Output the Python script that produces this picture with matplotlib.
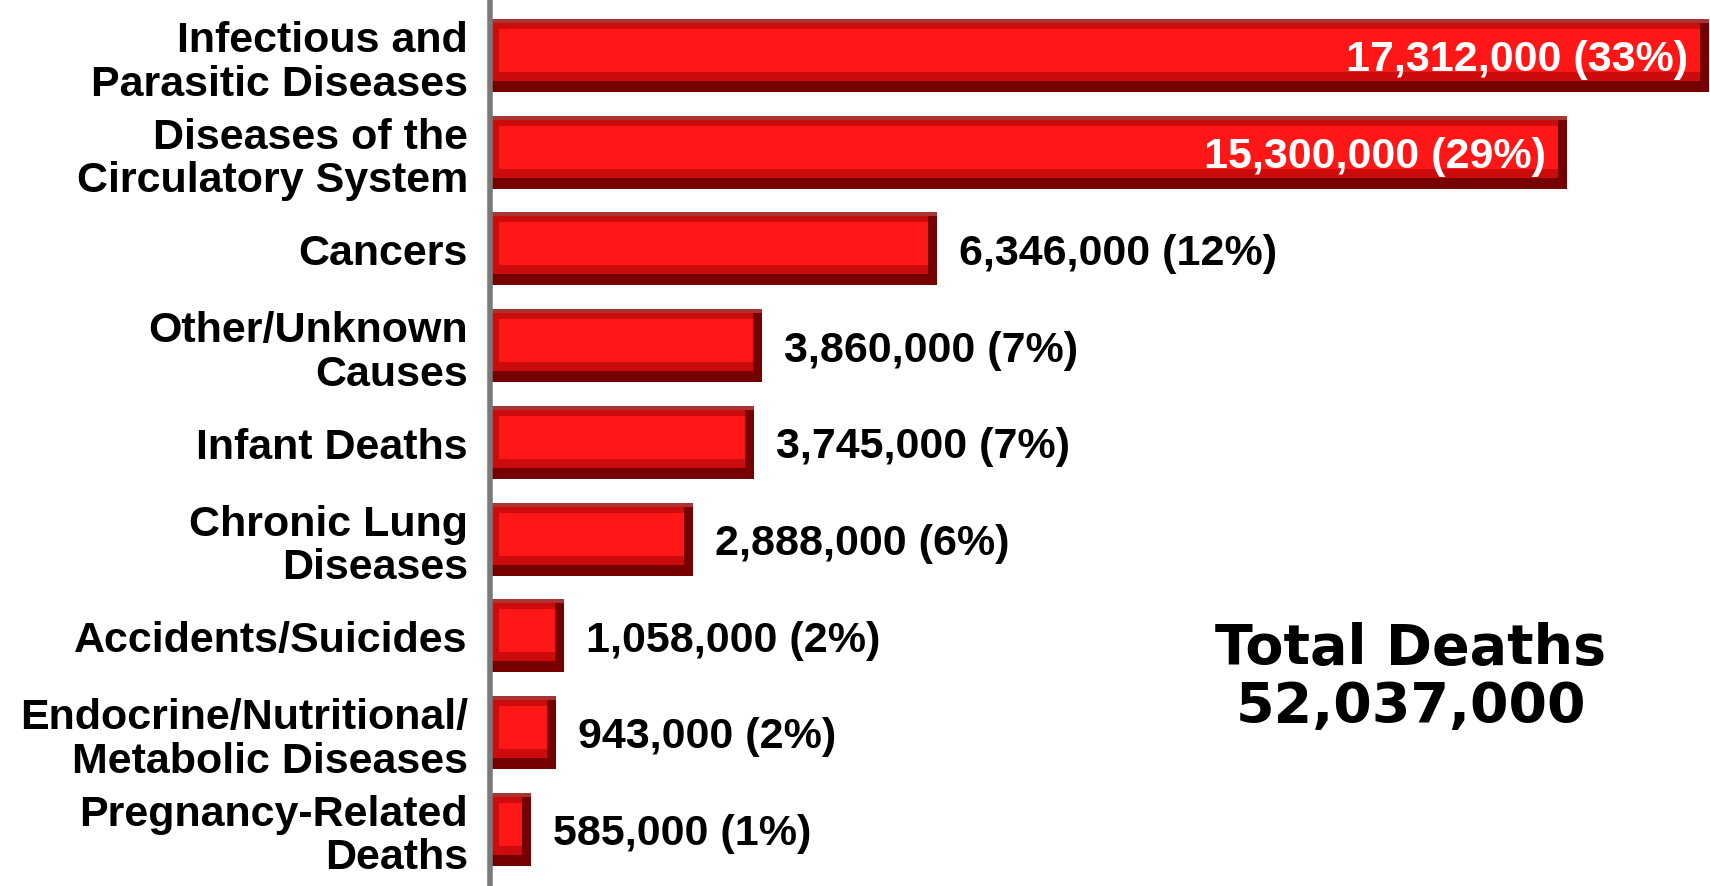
import matplotlib.pyplot as plt

# causes of death, largest first
causes = ["Infectious and\nParasitic Diseases", "Diseases of the\nCirculatory System",
          "Cancers", "Other/Unknown\nCauses", "Infant Deaths", "Chronic Lung\nDiseases",
          "Accidents/Suicides", "Endocrine/Nutritional/\nMetabolic Diseases",
          "Pregnancy-Related\nDeaths"]
deaths = [17312000, 15300000, 6346000, 3860000, 3745000, 2888000, 1058000, 943000, 585000]
shares = [33, 29, 12, 7, 7, 6, 2, 2, 1]
total_deaths = 52037000

plt.rcParams['font.family'] = ['Liberation Sans', 'DejaVu Sans']

W, H, DPI = 1710, 887, 100
fig = plt.figure(figsize=(W / DPI, H / DPI), dpi=DPI)
fig.patch.set_facecolor('white')
ax = fig.add_axes([490 / W, 0, 1 - 490 / W, 1])

vals = [d / 1e6 for d in deaths]
ypos = list(range(len(causes)))
bh = 0.755

# pixels per unit, used for the bevel insets
px_x = 70.41
px_y = 96.7

def bevel_bar(y, v):
    # dark base, mid red band, bright face
    ax.barh(y, v, height=bh, color='#760000', zorder=2)
    ax.barh(y - 4 / px_y, v - 9 / px_x, height=bh - 14 / px_y,
            color='#cc0c0c', zorder=3)
    ax.barh(y - 5 / px_y, max(v - 18 / px_x, 0.05), left=9 / px_x,
            height=bh - 30 / px_y, color='#ff1616', zorder=4)
    # thin top edge
    ax.barh(y - bh / 2 + 2 / px_y, v, height=4 / px_y, color='#a83434', zorder=5)

for y, v in zip(ypos, vals):
    bevel_bar(y, v)

for y, v, d, s in zip(ypos, vals, deaths, shares):
    label = f"{d:,} ({s}%)"
    if v > 10:
        ax.annotate(label, (v, y), xytext=(-21, -4), textcoords='offset pixels',
                    ha='right', va='center', color='white', fontsize=31,
                    fontweight='bold', zorder=6)
    else:
        ax.annotate(label, (v, y), xytext=(22, -4), textcoords='offset pixels',
                    ha='left', va='center', color='black', fontsize=31,
                    fontweight='bold', zorder=6)

ax.set_xlim(0, (W - 490) / px_x)
ax.set_ylim(8.588, -0.584)
ax.set_yticks(ypos)
ax.set_yticklabels(causes, fontsize=31, fontweight='bold', linespacing=1.12)
ax.tick_params(axis='y', length=0, pad=16)
ax.set_xticks([])

for side in ['top', 'right', 'bottom']:
    ax.spines[side].set_visible(False)
ax.spines['left'].set_color('#7a7a7a')
ax.spines['left'].set_linewidth(4)
ax.spines['left'].set_zorder(7)
ax.set_facecolor('white')

fig.text(1411 / W, 1 - 678 / H, f"Total Deaths\n{total_deaths:,}",
         ha='center', va='center', fontsize=40, fontweight='bold',
         family='DejaVu Sans', linespacing=1.1)

fig.savefig('out.png', dpi=DPI, facecolor='white')
